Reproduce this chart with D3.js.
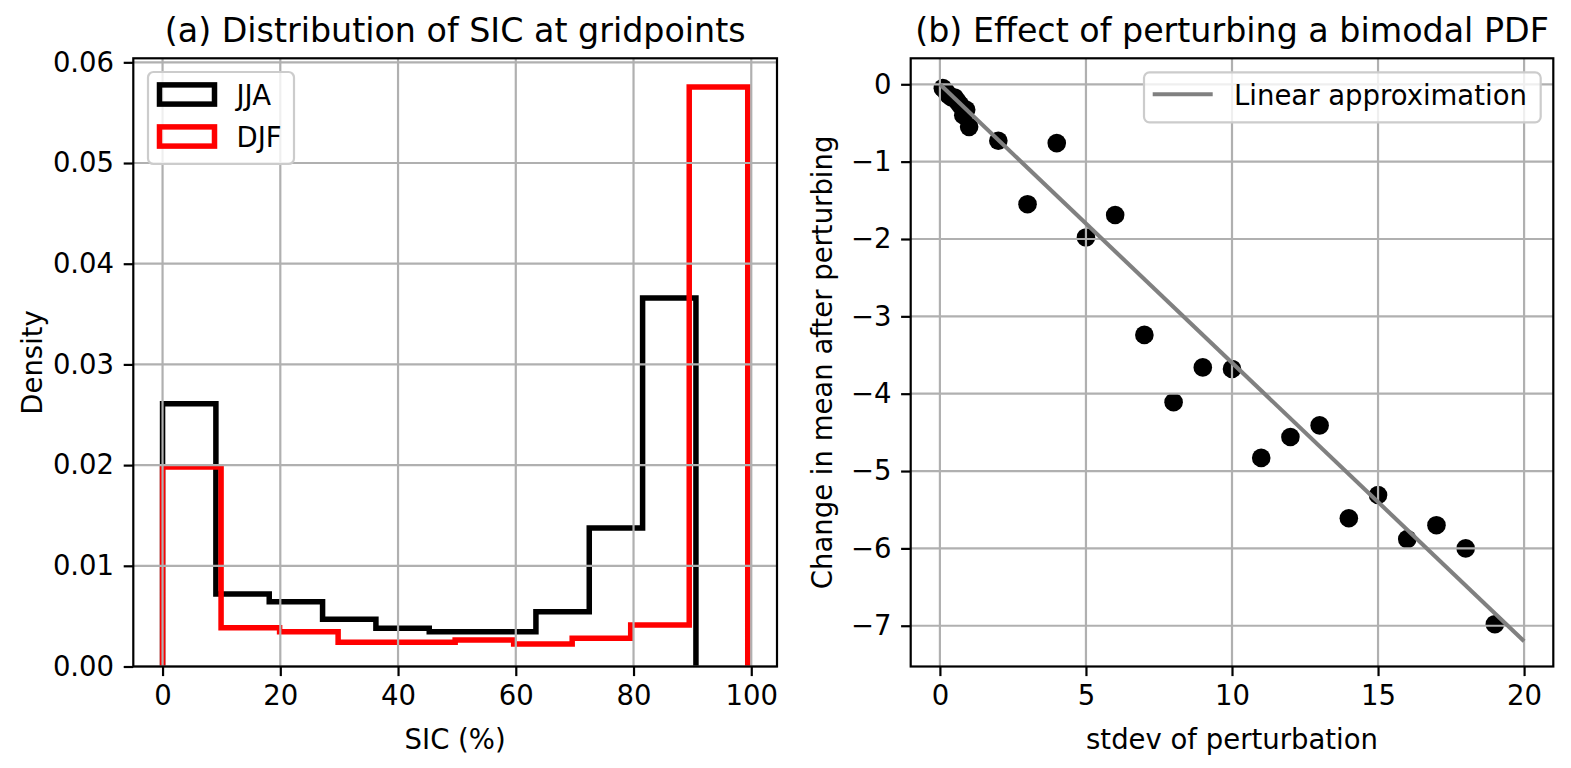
<!DOCTYPE html>
<html>
<head>
<meta charset="utf-8">
<script src="https://cdn.jsdelivr.net/npm/d3@7"></script>
<style>
  body { margin: 0; background: #fff; }
  svg { font-family: "DejaVu Sans", sans-serif; }
</style>
</head>
<body>
<div id="chart"></div>
<script>
// (a) histogram bins
const jjaEdges = [0, 9.06, 18.12, 27.18, 36.24, 45.3, 54.36, 63.42, 72.48, 81.54, 90.6]
const jjaDensity = [0.0261, 0.0072, 0.00644, 0.00469, 0.00379, 0.00345, 0.00345, 0.00544, 0.01375, 0.0366]
const djfEdges = [0, 9.94, 19.88, 29.82, 39.76, 49.7, 59.64, 69.58, 79.52, 89.46, 99.4]
const djfDensity = [0.0198, 0.00385, 0.00346, 0.0024, 0.0024, 0.00262, 0.00223, 0.0028, 0.00412, 0.05755]
const sicTicks = [0, 20, 40, 60, 80, 100]
const densityTicks = [0, 0.01, 0.02, 0.03, 0.04, 0.05, 0.06]

// (b) scatter of perturbation stdev vs change in mean
const stdevs = [0.1, 0.2, 0.3, 0.4, 0.5, 0.6, 0.7, 0.8, 0.9, 1, 2, 3, 4, 5, 6, 7, 8, 9, 10, 11, 12, 13, 14, 15, 16, 17, 18, 19]
const meanChange = [-0.05, -0.09, -0.14, -0.17, -0.17, -0.22, -0.27, -0.40, -0.33, -0.55,
  -0.73, -1.55, -0.76, -1.98, -1.69, -3.24, -4.11, -3.66, -3.68, -4.83, -4.56, -4.41, -5.61, -5.31, -5.88, -5.70, -6.00, -6.98]
const linearX = [0, 20]
const linearY = [0, -7.2]
const stdevTicks = [0, 5, 10, 15, 20]
const changeTicks = [0, -1, -2, -3, -4, -5, -6, -7]

const W = 1571, H = 768
const FS = 27.5
const LW = 2.2
const GRID = "#b0b0b0"
const minus = s => String(s).replace("-", "\u2212")

const svg = d3.select("#chart").append("svg")
  .attr("width", W)
  .attr("height", H)

const axTop = 58.3, axBottom = 666.5

function panel(opts) {
  const { x, y, xTicks, yTicks, yFmt, title, xlabel, ylabel, ylabelX } = opts
  const g = svg.append("g")
  const [x0, x1] = x.range()

  const layers = {
    marks: g.append("g"),
    grid: g.append("g"),
    over: g.append("g")
  }

  // grid
  layers.grid.selectAll(".gx").data(xTicks).enter().append("line")
    .attr("x1", d => x(d)).attr("x2", d => x(d))
    .attr("y1", axTop).attr("y2", axBottom)
    .attr("stroke", GRID).attr("stroke-width", LW)
  layers.grid.selectAll(".gy").data(yTicks).enter().append("line")
    .attr("x1", x0).attr("x2", x1)
    .attr("y1", d => y(d)).attr("y2", d => y(d))
    .attr("stroke", GRID).attr("stroke-width", LW)

  // axes
  const ax = g.append("g").attr("transform", `translate(0,${axBottom})`)
    .call(d3.axisBottom(x).tickValues(xTicks).tickSize(9.6).tickPadding(9.6).tickFormat(d => minus(d)))
  const ay = g.append("g").attr("transform", `translate(${x0},0)`)
    .call(d3.axisLeft(y).tickValues(yTicks).tickSize(9.6).tickPadding(9.6).tickFormat(yFmt))
  ;[ax, ay].forEach(a => {
    a.select(".domain").remove()
    a.selectAll("line").attr("stroke", "#000").attr("stroke-width", LW)
    a.selectAll("text").attr("font-size", FS).attr("font-family", "DejaVu Sans").attr("fill", "#000")
  })

  // spines
  g.append("rect")
    .attr("x", x0).attr("y", axTop)
    .attr("width", x1 - x0).attr("height", axBottom - axTop)
    .attr("fill", "none").attr("stroke", "#000").attr("stroke-width", LW)

  g.append("text")
    .attr("x", (x0 + x1) / 2).attr("y", 42)
    .attr("text-anchor", "middle").attr("font-size", 33.3)
    .text(title)
  g.append("text")
    .attr("x", (x0 + x1) / 2).attr("y", 749)
    .attr("text-anchor", "middle").attr("font-size", FS)
    .text(xlabel)
  g.append("text")
    .attr("transform", `translate(${ylabelX},${(axTop + axBottom) / 2}) rotate(-90)`)
    .attr("text-anchor", "middle").attr("font-size", FS)
    .text(ylabel)

  return layers
}

// ---- (a) ----
const xA = d3.scaleLinear().domain([-4.97, 104.37]).range([133.3, 777])
const yA = d3.scaleLinear().domain([0, 0.0604]).range([axBottom, axTop])

const a = panel({
  x: xA, y: yA, xTicks: sicTicks, yTicks: densityTicks,
  yFmt: d3.format(".2f"),
  title: "(a) Distribution of SIC at gridpoints",
  xlabel: "SIC (%)", ylabel: "Density", ylabelX: 42
})

function stepPath(edges, vals) {
  const pts = [[edges[0], 0]]
  vals.forEach((v, i) => { pts.push([edges[i], v]); pts.push([edges[i + 1], v]) })
  pts.push([edges[edges.length - 1], 0])
  return d3.line().x(d => xA(d[0])).y(d => yA(d[1]))(pts)
}

const hists = [
  { name: "JJA", edges: jjaEdges, vals: jjaDensity, color: "#000000" },
  { name: "DJF", edges: djfEdges, vals: djfDensity, color: "#ff0000" }
]

a.marks.selectAll("path").data(hists).enter().append("path")
  .attr("d", d => stepPath(d.edges, d.vals))
  .attr("fill", "none")
  .attr("stroke", d => d.color)
  .attr("stroke-width", 5.5)
  .attr("stroke-linejoin", "miter")

const legA = a.over.append("g")
legA.append("rect")
  .attr("x", 148).attr("y", 72).attr("width", 146).attr("height", 92)
  .attr("rx", 5.5)
  .attr("fill", "#fff").attr("fill-opacity", 0.8)
  .attr("stroke", "#cccccc").attr("stroke-width", LW)
hists.forEach((h, i) => {
  const cy = 94.5 + i * 42
  legA.append("rect")
    .attr("x", 159.5).attr("y", cy - 9.6).attr("width", 55).attr("height", 19.2)
    .attr("fill", "none").attr("stroke", h.color).attr("stroke-width", 5.5)
  legA.append("text")
    .attr("x", 236.5).attr("y", cy + 10)
    .attr("font-size", FS)
    .text(h.name)
})

// ---- (b) ----
const xB = d3.scaleLinear().domain([-1, 21]).range([910.7, 1553.3])
const yB = d3.scaleLinear().domain([-7.527, 0.336]).range([axBottom, axTop])

const b = panel({
  x: xB, y: yB, xTicks: stdevTicks, yTicks: changeTicks,
  yFmt: d => minus(d),
  title: "(b) Effect of perturbing a bimodal PDF",
  xlabel: "stdev of perturbation", ylabel: "Change in mean after perturbing", ylabelX: 832
})

// scatter sits below the grid, like matplotlib's default zorder
b.marks.selectAll("circle").data(stdevs).enter().append("circle")
  .attr("cx", d => xB(d))
  .attr("cy", (d, i) => yB(meanChange[i]))
  .attr("r", 9.3)
  .attr("fill", "#000")

b.over.append("path")
  .datum(linearX.map((d, i) => [d, linearY[i]]))
  .attr("d", d3.line().x(d => xB(d[0])).y(d => yB(d[1])))
  .attr("fill", "none").attr("stroke", "#808080").attr("stroke-width", 4.1)

const legB = b.over.append("g")
legB.append("rect")
  .attr("x", 1144).attr("y", 72.3).attr("width", 396.7).attr("height", 50)
  .attr("rx", 5.5)
  .attr("fill", "#fff").attr("fill-opacity", 0.8)
  .attr("stroke", "#cccccc").attr("stroke-width", LW)
legB.append("line")
  .attr("x1", 1152.7).attr("x2", 1212.7).attr("y1", 94.3).attr("y2", 94.3)
  .attr("stroke", "#808080").attr("stroke-width", 4.1)
legB.append("text")
  .attr("x", 1234).attr("y", 104.5)
  .attr("font-size", FS)
  .text("Linear approximation")
</script>
</body>
</html>
